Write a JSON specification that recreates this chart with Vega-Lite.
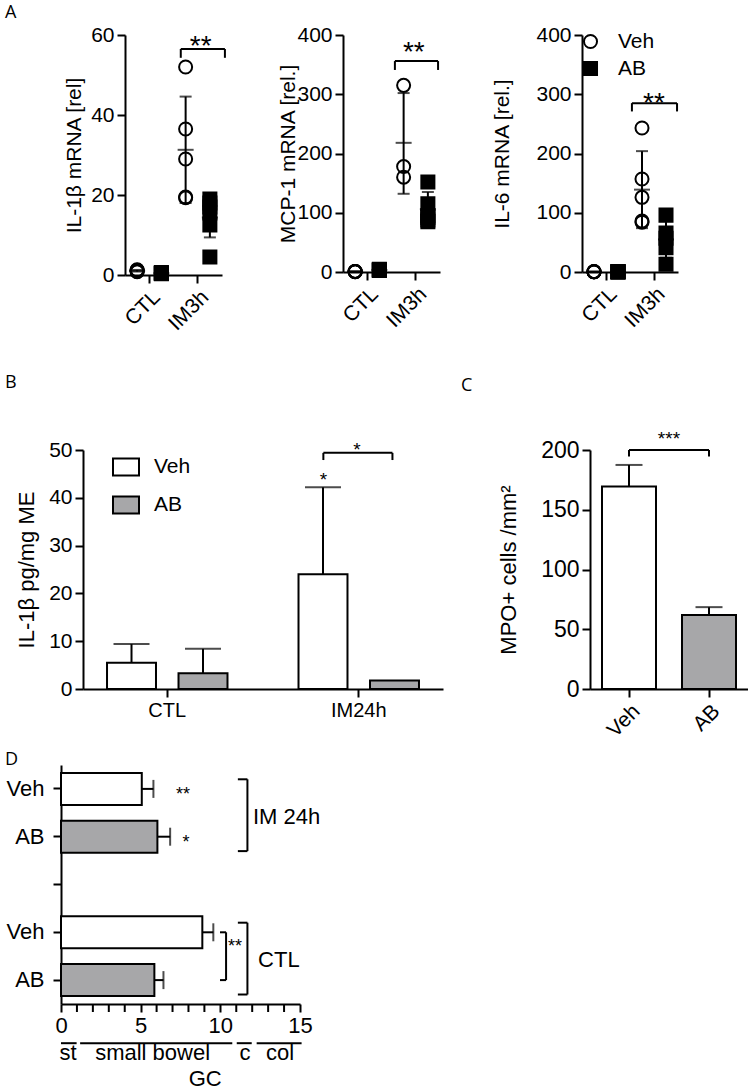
{
"$schema": "https://vega.github.io/schema/vega-lite/v6.json",
"padding": {"left": 0, "top": 4, "right": 0, "bottom": 0},
"datasets": {
"a1p": [
{"grp":"CTL","treat":"Veh","v":1.3},{"grp":"CTL","treat":"Veh","v":1.1},{"grp":"CTL","treat":"Veh","v":0.9},{"grp":"CTL","treat":"Veh","v":1.2},{"grp":"CTL","treat":"Veh","v":0.8},
{"grp":"CTL","treat":"AB","v":0.6},{"grp":"CTL","treat":"AB","v":0.4},{"grp":"CTL","treat":"AB","v":0.5},{"grp":"CTL","treat":"AB","v":0.3},{"grp":"CTL","treat":"AB","v":0.45},
{"grp":"IM3h","treat":"Veh","v":52},{"grp":"IM3h","treat":"Veh","v":36.5},{"grp":"IM3h","treat":"Veh","v":29},{"grp":"IM3h","treat":"Veh","v":19.5},{"grp":"IM3h","treat":"Veh","v":19.3},
{"grp":"IM3h","treat":"AB","v":19},{"grp":"IM3h","treat":"AB","v":18},{"grp":"IM3h","treat":"AB","v":17},{"grp":"IM3h","treat":"AB","v":15.5},{"grp":"IM3h","treat":"AB","v":12.5},{"grp":"IM3h","treat":"AB","v":4.5}],
"a1s": [
{"grp":"CTL","treat":"Veh","mean":1.06,"lo":0.86,"hi":1.26},
{"grp":"CTL","treat":"AB","mean":0.45,"lo":0.33,"hi":0.57},
{"grp":"IM3h","treat":"Veh","mean":31.3,"lo":18,"hi":44.6},
{"grp":"IM3h","treat":"AB","mean":14.4,"lo":9.4,"hi":19.4}],
"a2p": [
{"grp":"CTL","treat":"Veh","v":0.5},{"grp":"CTL","treat":"Veh","v":0.8},{"grp":"CTL","treat":"Veh","v":1.0},{"grp":"CTL","treat":"Veh","v":0.6},{"grp":"CTL","treat":"Veh","v":0.9},
{"grp":"CTL","treat":"AB","v":3},{"grp":"CTL","treat":"AB","v":4},{"grp":"CTL","treat":"AB","v":2.5},{"grp":"CTL","treat":"AB","v":3.5},{"grp":"CTL","treat":"AB","v":4.5},
{"grp":"IM3h","treat":"Veh","v":315},{"grp":"IM3h","treat":"Veh","v":178},{"grp":"IM3h","treat":"Veh","v":160},
{"grp":"IM3h","treat":"AB","v":152},{"grp":"IM3h","treat":"AB","v":115},{"grp":"IM3h","treat":"AB","v":95},{"grp":"IM3h","treat":"AB","v":92},{"grp":"IM3h","treat":"AB","v":88},{"grp":"IM3h","treat":"AB","v":85}],
"a2s": [
{"grp":"CTL","treat":"Veh","mean":0.76,"lo":0.55,"hi":0.97},
{"grp":"CTL","treat":"AB","mean":3.5,"lo":2.7,"hi":4.3},
{"grp":"IM3h","treat":"Veh","mean":218,"lo":132,"hi":302},
{"grp":"IM3h","treat":"AB","mean":106,"lo":77,"hi":135}],
"a3p": [
{"grp":"CTL","treat":"Veh","v":0.5},{"grp":"CTL","treat":"Veh","v":0.4},{"grp":"CTL","treat":"Veh","v":0.6},{"grp":"CTL","treat":"Veh","v":0.3},{"grp":"CTL","treat":"Veh","v":0.5},
{"grp":"CTL","treat":"AB","v":0.3},{"grp":"CTL","treat":"AB","v":0.4},{"grp":"CTL","treat":"AB","v":0.2},{"grp":"CTL","treat":"AB","v":0.5},{"grp":"CTL","treat":"AB","v":0.3},
{"grp":"IM3h","treat":"Veh","v":243},{"grp":"IM3h","treat":"Veh","v":157},{"grp":"IM3h","treat":"Veh","v":126},{"grp":"IM3h","treat":"Veh","v":84},{"grp":"IM3h","treat":"Veh","v":86},
{"grp":"IM3h","treat":"AB","v":96},{"grp":"IM3h","treat":"AB","v":66},{"grp":"IM3h","treat":"AB","v":57},{"grp":"IM3h","treat":"AB","v":41},{"grp":"IM3h","treat":"AB","v":13}],
"a3s": [
{"grp":"CTL","treat":"Veh","mean":0.46,"lo":0.35,"hi":0.57},
{"grp":"CTL","treat":"AB","mean":0.34,"lo":0.23,"hi":0.45},
{"grp":"IM3h","treat":"Veh","mean":139,"lo":74,"hi":204},
{"grp":"IM3h","treat":"AB","mean":55,"lo":24,"hi":86}],
"b": [
{"grp":"CTL","treat":"Veh","mean":5.5,"hi":9.4},
{"grp":"CTL","treat":"AB","mean":3.3,"hi":8.4},
{"grp":"IM24h","treat":"Veh","mean":24.0,"hi":42.2},
{"grp":"IM24h","treat":"AB","mean":1.8}],
"c": [
{"treat":"Veh","mean":169.5,"hi":187.5},
{"treat":"AB","mean":62,"hi":68.5}],
"d": [
{"cat":"IM_Veh","treat":"Veh","v":5.07,"hi":5.8},
{"cat":"IM_AB","treat":"AB","v":6.05,"hi":6.85},
{"cat":"CTL_Veh","treat":"Veh","v":8.87,"hi":9.56},
{"cat":"CTL_AB","treat":"AB","v":5.86,"hi":6.43}],
"dminor": [
{"row":"CTL_AB","x":1},{"row":"CTL_AB","x":2},{"row":"CTL_AB","x":3},{"row":"CTL_AB","x":4},
{"row":"CTL_AB","x":6},{"row":"CTL_AB","x":7},{"row":"CTL_AB","x":8},{"row":"CTL_AB","x":9},
{"row":"CTL_AB","x":11},{"row":"CTL_AB","x":12},{"row":"CTL_AB","x":13},{"row":"CTL_AB","x":14}]
},
"config": {
"font": "Liberation Sans",
"view": {"stroke": null},
"axis": {"domainColor":"black","domainWidth":2,"tickColor":"black","tickWidth":2,"tickSize":8,"labelColor":"black","titleColor":"black","labelFont":"Liberation Sans","titleFont":"Liberation Sans","labelFontSize":21,"titleFontSize":21,"titleFontWeight":"normal","grid":false,"labelPadding":3},
"title": {"font":"Open Sans","fontSize":18,"fontWeight":"normal","anchor":"start","frame":"group","color":"black"},
"legend": {"labelFont":"Liberation Sans","labelColor":"black","labelFontSize":21},
"text": {"font":"Liberation Sans","color":"black"}
},
"spacing": 10,
"align": "none",
"resolve": {"scale": {"fill":"independent","shape":"independent","xOffset":"independent"}, "legend": {"fill":"independent","shape":"independent"}},
"vconcat": [
{
"spacing": 40,
"align": "none",
"resolve": {"scale": {"fill":"independent","shape":"independent","xOffset":"independent"}, "legend": {"fill":"independent","shape":"independent"}},
"vconcat": [
{
"spacing": 4,
"align": "each",
"resolve": {"scale": {"fill":"independent","shape":"independent","xOffset":"independent"}, "legend": {"fill":"independent","shape":"independent"}},
"hconcat": [
{"width": 1, "height": 1, "data": {"values": [{"t": ""}]}, "mark": {"type": "text"}, "encoding": {"text": {"field": "t"}}},
{
"spacing": 51,
"align": "each",
"resolve": {"scale": {"fill":"independent","shape":"independent","xOffset":"independent"}, "legend": {"fill":"independent","shape":"independent"}},
"hconcat": [
{
"title": {"text": "A", "dx": -120, "offset": 2},
"width": 97, "height": 240,
"layer": [
{"data": {"name": "a1s"}, "mark": {"type": "rule", "color": "black", "strokeWidth": 2},
 "encoding": {
  "x": {"field": "grp", "type": "nominal", "scale": {"domain": ["CTL","IM3h"], "paddingInner": 0, "paddingOuter": 0}, "axis": {"title": null, "labelAngle": -45}},
  "xOffset": {"field": "treat", "type": "nominal", "scale": {"domain": ["Veh","AB"], "paddingInner": 0, "paddingOuter": 0}},
  "y": {"field": "lo", "type": "quantitative", "scale": {"domain": [0,60], "nice": false}, "axis": {"values": [0,20,40,60], "title": "IL-1β mRNA [rel]", "titlePadding": 6}},
  "y2": {"field": "hi"}}},
{"data": {"name": "a1s"}, "mark": {"type": "tick", "color": "black", "thickness": 2, "size": 12},
 "encoding": {"x": {"field": "grp", "type": "nominal"}, "xOffset": {"field": "treat", "type": "nominal"}, "y": {"field": "hi", "type": "quantitative"}}},
{"data": {"name": "a1s"}, "mark": {"type": "tick", "color": "black", "thickness": 2, "size": 12},
 "encoding": {"x": {"field": "grp", "type": "nominal"}, "xOffset": {"field": "treat", "type": "nominal"}, "y": {"field": "lo", "type": "quantitative"}}},
{"data": {"name": "a1s"}, "mark": {"type": "tick", "color": "black", "thickness": 2, "size": 16},
 "encoding": {"x": {"field": "grp", "type": "nominal"}, "xOffset": {"field": "treat", "type": "nominal"}, "y": {"field": "mean", "type": "quantitative"}}},
{"data": {"name": "a1p"}, "mark": {"type": "point", "size": 170, "stroke": "black", "strokeWidth": 2, "opacity": 1},
 "encoding": {"x": {"field": "grp", "type": "nominal"}, "xOffset": {"field": "treat", "type": "nominal"}, "y": {"field": "v", "type": "quantitative"},
  "shape": {"field": "treat", "type": "nominal", "scale": {"domain": ["Veh","AB"], "range": ["circle","square"]}, "legend": null},
  "fill": {"field": "treat", "type": "nominal", "scale": {"domain": ["Veh","AB"], "range": ["transparent","black"]}, "legend": null}}},
{"data": {"values": [{"g": "IM3h", "y": 56.5}]}, "mark": {"type": "rule", "color": "black", "strokeWidth": 2},
 "encoding": {"x": {"field": "g", "type": "nominal", "bandPosition": 0.15}, "x2": {"field": "g", "bandPosition": 1.06}, "y": {"field": "y", "type": "quantitative"}}},
{"data": {"values": [{"g": "IM3h", "y": 54.3, "y2": 56.5}]}, "mark": {"type": "rule", "color": "black", "strokeWidth": 2},
 "encoding": {"x": {"field": "g", "type": "nominal", "bandPosition": 0.15}, "y": {"field": "y", "type": "quantitative"}, "y2": {"field": "y2"}}},
{"data": {"values": [{"g": "IM3h", "y": 54.3, "y2": 56.5}]}, "mark": {"type": "rule", "color": "black", "strokeWidth": 2},
 "encoding": {"x": {"field": "g", "type": "nominal", "bandPosition": 1.06}, "y": {"field": "y", "type": "quantitative"}, "y2": {"field": "y2"}}},
{"data": {"values": [{"g": "IM3h", "y": 55, "t": "**"}]}, "mark": {"type": "text", "fontSize": 28, "baseline": "alphabetic", "align": "center", "color": "black"},
 "encoding": {"x": {"field": "g", "type": "nominal", "bandPosition": 0.56}, "y": {"field": "y", "type": "quantitative"}, "text": {"field": "t"}}}
]
},
{
"width": 97, "height": 237,
"layer": [
{"data": {"name": "a2s"}, "mark": {"type": "rule", "color": "black", "strokeWidth": 2},
 "encoding": {
  "x": {"field": "grp", "type": "nominal", "scale": {"domain": ["CTL","IM3h"], "paddingInner": 0, "paddingOuter": 0}, "axis": {"title": null, "labelAngle": -45}},
  "xOffset": {"field": "treat", "type": "nominal", "scale": {"domain": ["Veh","AB"], "paddingInner": 0, "paddingOuter": 0}},
  "y": {"field": "lo", "type": "quantitative", "scale": {"domain": [0,400], "nice": false}, "axis": {"values": [0,100,200,300,400], "title": "MCP-1 mRNA [rel.]", "titlePadding": -2}},
  "y2": {"field": "hi"}}},
{"data": {"name": "a2s"}, "mark": {"type": "tick", "color": "black", "thickness": 2, "size": 12},
 "encoding": {"x": {"field": "grp", "type": "nominal"}, "xOffset": {"field": "treat", "type": "nominal"}, "y": {"field": "hi", "type": "quantitative"}}},
{"data": {"name": "a2s"}, "mark": {"type": "tick", "color": "black", "thickness": 2, "size": 12},
 "encoding": {"x": {"field": "grp", "type": "nominal"}, "xOffset": {"field": "treat", "type": "nominal"}, "y": {"field": "lo", "type": "quantitative"}}},
{"data": {"name": "a2s"}, "mark": {"type": "tick", "color": "black", "thickness": 2, "size": 16},
 "encoding": {"x": {"field": "grp", "type": "nominal"}, "xOffset": {"field": "treat", "type": "nominal"}, "y": {"field": "mean", "type": "quantitative"}}},
{"data": {"name": "a2p"}, "mark": {"type": "point", "size": 170, "stroke": "black", "strokeWidth": 2, "opacity": 1},
 "encoding": {"x": {"field": "grp", "type": "nominal"}, "xOffset": {"field": "treat", "type": "nominal"}, "y": {"field": "v", "type": "quantitative"},
  "shape": {"field": "treat", "type": "nominal", "scale": {"domain": ["Veh","AB"], "range": ["circle","square"]}, "legend": null},
  "fill": {"field": "treat", "type": "nominal", "scale": {"domain": ["Veh","AB"], "range": ["transparent","black"]}, "legend": null}}},
{"data": {"values": [{"g": "IM3h", "y": 356}]}, "mark": {"type": "rule", "color": "black", "strokeWidth": 2},
 "encoding": {"x": {"field": "g", "type": "nominal", "bandPosition": 0.07}, "x2": {"field": "g", "bandPosition": 0.96}, "y": {"field": "y", "type": "quantitative"}}},
{"data": {"values": [{"g": "IM3h", "y": 341, "y2": 356}]}, "mark": {"type": "rule", "color": "black", "strokeWidth": 2},
 "encoding": {"x": {"field": "g", "type": "nominal", "bandPosition": 0.07}, "y": {"field": "y", "type": "quantitative"}, "y2": {"field": "y2"}}},
{"data": {"values": [{"g": "IM3h", "y": 341, "y2": 356}]}, "mark": {"type": "rule", "color": "black", "strokeWidth": 2},
 "encoding": {"x": {"field": "g", "type": "nominal", "bandPosition": 0.96}, "y": {"field": "y", "type": "quantitative"}, "y2": {"field": "y2"}}},
{"data": {"values": [{"g": "IM3h", "y": 356, "t": "**"}]}, "mark": {"type": "text", "fontSize": 28, "baseline": "alphabetic", "align": "center", "color": "black"},
 "encoding": {"x": {"field": "g", "type": "nominal", "bandPosition": 0.46}, "y": {"field": "y", "type": "quantitative"}, "text": {"field": "t"}}}
]
},
{
"width": 96, "height": 237,
"layer": [
{"data": {"name": "a3s"}, "mark": {"type": "rule", "color": "black", "strokeWidth": 2},
 "encoding": {
  "x": {"field": "grp", "type": "nominal", "scale": {"domain": ["CTL","IM3h"], "paddingInner": 0, "paddingOuter": 0}, "axis": {"title": null, "labelAngle": -45}},
  "xOffset": {"field": "treat", "type": "nominal", "scale": {"domain": ["Veh","AB"], "paddingInner": 0, "paddingOuter": 0}},
  "y": {"field": "lo", "type": "quantitative", "scale": {"domain": [0,400], "nice": false}, "axis": {"values": [0,100,200,300,400], "title": "IL-6 mRNA [rel.]", "titlePadding": 23}},
  "y2": {"field": "hi"}}},
{"data": {"name": "a3s"}, "mark": {"type": "tick", "color": "black", "thickness": 2, "size": 12},
 "encoding": {"x": {"field": "grp", "type": "nominal"}, "xOffset": {"field": "treat", "type": "nominal"}, "y": {"field": "hi", "type": "quantitative"}}},
{"data": {"name": "a3s"}, "mark": {"type": "tick", "color": "black", "thickness": 2, "size": 12},
 "encoding": {"x": {"field": "grp", "type": "nominal"}, "xOffset": {"field": "treat", "type": "nominal"}, "y": {"field": "lo", "type": "quantitative"}}},
{"data": {"name": "a3s"}, "mark": {"type": "tick", "color": "black", "thickness": 2, "size": 16},
 "encoding": {"x": {"field": "grp", "type": "nominal"}, "xOffset": {"field": "treat", "type": "nominal"}, "y": {"field": "mean", "type": "quantitative"}}},
{"data": {"name": "a3p"}, "mark": {"type": "point", "size": 170, "stroke": "black", "strokeWidth": 2, "opacity": 1},
 "encoding": {"x": {"field": "grp", "type": "nominal"}, "xOffset": {"field": "treat", "type": "nominal"}, "y": {"field": "v", "type": "quantitative"},
  "shape": {"field": "treat", "type": "nominal", "scale": {"domain": ["Veh","AB"], "range": ["circle","square"]}, "legend": {"title": null, "orient": "none", "legendX": -2, "legendY": -4, "labelOffset": 17, "rowPadding": 4, "labelFontSize": 21, "symbolStrokeWidth": 2, "symbolSize": 170}},
  "fill": {"field": "treat", "type": "nominal", "scale": {"domain": ["Veh","AB"], "range": ["transparent","black"]}, "legend": {"title": null, "orient": "none", "legendX": -2, "legendY": -4, "labelOffset": 17, "rowPadding": 4, "labelFontSize": 21, "symbolStrokeWidth": 2, "symbolSize": 170}}}},
{"data": {"values": [{"g": "IM3h", "y": 285}]}, "mark": {"type": "rule", "color": "black", "strokeWidth": 2},
 "encoding": {"x": {"field": "g", "type": "nominal", "bandPosition": 0.04}, "x2": {"field": "g", "bandPosition": 0.98}, "y": {"field": "y", "type": "quantitative"}}},
{"data": {"values": [{"g": "IM3h", "y": 271, "y2": 285}]}, "mark": {"type": "rule", "color": "black", "strokeWidth": 2},
 "encoding": {"x": {"field": "g", "type": "nominal", "bandPosition": 0.04}, "y": {"field": "y", "type": "quantitative"}, "y2": {"field": "y2"}}},
{"data": {"values": [{"g": "IM3h", "y": 271, "y2": 285}]}, "mark": {"type": "rule", "color": "black", "strokeWidth": 2},
 "encoding": {"x": {"field": "g", "type": "nominal", "bandPosition": 0.98}, "y": {"field": "y", "type": "quantitative"}, "y2": {"field": "y2"}}},
{"data": {"values": [{"g": "IM3h", "y": 270, "t": "**"}]}, "mark": {"type": "text", "fontSize": 28, "baseline": "alphabetic", "align": "center", "color": "black"},
 "encoding": {"x": {"field": "g", "type": "nominal", "bandPosition": 0.5}, "y": {"field": "y", "type": "quantitative"}, "text": {"field": "t"}}}
]
}
]
}
]
},
{
"spacing": 4,
"align": "each",
"resolve": {"scale": {"fill":"independent","shape":"independent","xOffset":"independent"}, "legend": {"fill":"independent","shape":"independent"}},
"hconcat": [
{"width": 1, "height": 1, "data": {"values": [{"t": ""}]}, "mark": {"type": "text"}, "encoding": {"text": {"field": "t"}}},
{
"spacing": 18,
"align": "each",
"resolve": {"scale": {"fill":"independent","shape":"independent","xOffset":"independent"}, "legend": {"fill":"independent","shape":"independent"}},
"hconcat": [
{
"title": {"text": "B", "dx": -78, "offset": 47},
"width": 360, "height": 239,
"layer": [
{"data": {"name": "b"}, "mark": {"type": "bar", "stroke": "black", "strokeWidth": 2},
 "encoding": {
  "x": {"field": "grp", "type": "nominal", "scale": {"domain": ["CTL","IM24h"], "paddingInner": 0.12, "paddingOuter": 0}, "axis": {"title": null, "labelAngle": 0, "labelFontSize": 20}},
  "xOffset": {"field": "treat", "type": "nominal", "scale": {"domain": ["Veh","AB"], "paddingInner": 0.315, "paddingOuter": 0.336}},
  "y": {"field": "mean", "type": "quantitative", "scale": {"domain": [0,50], "nice": false}, "axis": {"values": [0,10,20,30,40,50], "title": "IL-1β pg/mg ME", "titlePadding": 10, "titleFontSize": 22}},
  "fill": {"field": "treat", "type": "nominal", "scale": {"domain": ["Veh","AB"], "range": ["white","#a7a7a9"]},
   "legend": {"title": null, "orient": "none", "legendX": 29, "legendY": 3, "symbolType": "M-1,-0.65L1,-0.65L1,0.65L-1,0.65Z", "symbolSize": 676, "symbolStrokeColor": "black", "symbolStrokeWidth": 2, "labelFontSize": 21, "labelOffset": 14, "rowPadding": 11}}}},
{"data": {"name": "b"}, "transform": [{"filter": "isValid(datum.hi)"}], "mark": {"type": "rule", "color": "black", "strokeWidth": 2},
 "encoding": {"x": {"field": "grp", "type": "nominal"}, "xOffset": {"field": "treat", "type": "nominal"}, "y": {"field": "mean", "type": "quantitative"}, "y2": {"field": "hi"}}},
{"data": {"name": "b"}, "transform": [{"filter": "isValid(datum.hi)"}], "mark": {"type": "tick", "color": "black", "thickness": 2, "size": 36},
 "encoding": {"x": {"field": "grp", "type": "nominal"}, "xOffset": {"field": "treat", "type": "nominal"}, "y": {"field": "hi", "type": "quantitative"}}},
{"data": {"values": [{"g": "IM24h", "y": 49.4}]}, "mark": {"type": "rule", "color": "black", "strokeWidth": 2},
 "encoding": {"x": {"field": "g", "type": "nominal", "bandPosition": 0.29}, "x2": {"field": "g", "bandPosition": 0.70}, "y": {"field": "y", "type": "quantitative"}}},
{"data": {"values": [{"g": "IM24h", "y": 47.9, "y2": 49.4}]}, "mark": {"type": "rule", "color": "black", "strokeWidth": 2},
 "encoding": {"x": {"field": "g", "type": "nominal", "bandPosition": 0.29}, "y": {"field": "y", "type": "quantitative"}, "y2": {"field": "y2"}}},
{"data": {"values": [{"g": "IM24h", "y": 47.9, "y2": 49.4}]}, "mark": {"type": "rule", "color": "black", "strokeWidth": 2},
 "encoding": {"x": {"field": "g", "type": "nominal", "bandPosition": 0.70}, "y": {"field": "y", "type": "quantitative"}, "y2": {"field": "y2"}}},
{"data": {"values": [{"g": "IM24h", "y": 48.7, "t": "*"}]}, "mark": {"type": "text", "fontSize": 19, "baseline": "alphabetic", "align": "center", "color": "black"},
 "encoding": {"x": {"field": "g", "type": "nominal", "bandPosition": 0.49}, "y": {"field": "y", "type": "quantitative"}, "text": {"field": "t"}}},
{"data": {"values": [{"g": "IM24h", "y": 42.5, "t": "*"}]}, "mark": {"type": "text", "fontSize": 19, "baseline": "alphabetic", "align": "center", "color": "black"},
 "encoding": {"x": {"field": "g", "type": "nominal", "bandPosition": 0.29}, "y": {"field": "y", "type": "quantitative"}, "text": {"field": "t"}}}
]
},
{
"title": {"text": "C", "dx": -129, "offset": 35},
"width": 158, "height": 239,
"layer": [
{"data": {"name": "c"}, "mark": {"type": "bar", "stroke": "black", "strokeWidth": 2},
 "encoding": {
  "x": {"field": "treat", "type": "nominal", "scale": {"domain": ["Veh","AB"], "paddingInner": 0.325, "paddingOuter": 0.15}, "axis": {"title": null, "labelAngle": -45, "labelFontSize": 21}},
  "y": {"field": "mean", "type": "quantitative", "scale": {"domain": [0,200], "nice": false}, "axis": {"values": [0,50,100,150,200], "title": "MPO+ cells /mm²", "titlePadding": 20, "labelFontSize": 23, "titleFontSize": 22}},
  "fill": {"field": "treat", "type": "nominal", "scale": {"domain": ["Veh","AB"], "range": ["white","#a7a7a9"]}, "legend": null}}},
{"data": {"name": "c"}, "mark": {"type": "rule", "color": "black", "strokeWidth": 2},
 "encoding": {"x": {"field": "treat", "type": "nominal"}, "y": {"field": "mean", "type": "quantitative"}, "y2": {"field": "hi"}}},
{"data": {"name": "c"}, "mark": {"type": "tick", "color": "black", "thickness": 2, "size": 27},
 "encoding": {"x": {"field": "treat", "type": "nominal"}, "y": {"field": "hi", "type": "quantitative"}}},
{"data": {"values": [{"a": "Veh", "b": "AB", "y": 200}]}, "mark": {"type": "rule", "color": "black", "strokeWidth": 2},
 "encoding": {"x": {"field": "a", "type": "nominal", "bandPosition": 0.5}, "x2": {"field": "b", "bandPosition": 0.5}, "y": {"field": "y", "type": "quantitative"}}},
{"data": {"values": [{"a": "Veh", "y": 194.5, "y2": 200}, {"a": "AB", "y": 194.5, "y2": 200}]}, "mark": {"type": "rule", "color": "black", "strokeWidth": 2},
 "encoding": {"x": {"field": "a", "type": "nominal"}, "y": {"field": "y", "type": "quantitative"}, "y2": {"field": "y2"}}},
{"data": {"values": [{"a": "Veh", "y": 204, "t": "***"}]}, "mark": {"type": "text", "fontSize": 19, "baseline": "alphabetic", "align": "center", "color": "black"},
 "encoding": {"x": {"field": "a", "type": "nominal", "bandPosition": 1.24}, "y": {"field": "y", "type": "quantitative"}, "text": {"field": "t"}}}
]
}
]
}
]
}
]
},
{
"spacing": 4,
"align": "each",
"resolve": {"scale": {"fill":"independent","shape":"independent","xOffset":"independent"}, "legend": {"fill":"independent","shape":"independent"}},
"hconcat": [
{"width": 1, "height": 1, "data": {"values": [{"t": ""}]}, "mark": {"type": "text"}, "encoding": {"text": {"field": "t"}}},
{
"title": {"text": "D", "dx": -56, "offset": -4},
"width": 239, "height": 239,
"layer": [
{"data": {"name": "d"}, "mark": {"type": "bar", "stroke": "black", "strokeWidth": 2},
 "encoding": {
  "y": {"field": "cat", "type": "nominal", "scale": {"domain": ["IM_Veh","IM_AB","gap","CTL_Veh","CTL_AB"], "paddingInner": 0.33, "paddingOuter": 0.165},
   "axis": {"title": null, "labelPadding": 9, "labelFontSize": 22, "labelExpr": "indexof(datum.value, 'Veh') >= 0 ? 'Veh' : (indexof(datum.value, 'AB') >= 0 ? 'AB' : '')"}},
  "x": {"field": "v", "type": "quantitative", "scale": {"domain": [0,15], "nice": false}, "axis": {"title": null, "values": [0,5,10,15], "labelFontSize": 22, "labelFlush": false}},
  "fill": {"field": "treat", "type": "nominal", "scale": {"domain": ["Veh","AB"], "range": ["white","#a7a7a9"]}, "legend": null}}},
{"data": {"name": "dminor"}, "mark": {"type": "rule", "color": "black", "strokeWidth": 2},
 "encoding": {"x": {"field": "x", "type": "quantitative"}, "y": {"field": "row", "type": "nominal", "bandPosition": 1.246}, "y2": {"field": "row", "bandPosition": 1.496}}},
{"data": {"name": "d"}, "mark": {"type": "rule", "color": "black", "strokeWidth": 2},
 "encoding": {"y": {"field": "cat", "type": "nominal"}, "x": {"field": "v", "type": "quantitative"}, "x2": {"field": "hi"}}},
{"data": {"name": "d"}, "mark": {"type": "tick", "color": "black", "thickness": 2, "size": 18},
 "encoding": {"y": {"field": "cat", "type": "nominal"}, "x": {"field": "hi", "type": "quantitative"}}},
{"data": {"values": [{"x": 11.7, "y1": "IM_Veh", "y2": "IM_AB"}, {"x": 11.7, "y1": "CTL_Veh", "y2": "CTL_AB"}]}, "mark": {"type": "rule", "color": "black", "strokeWidth": 2},
 "encoding": {"x": {"field": "x", "type": "quantitative"}, "y": {"field": "y1", "type": "nominal", "bandPosition": 0.2}, "y2": {"field": "y2", "bandPosition": 0.95}}},
{"data": {"values": [{"xa": 11.1, "xb": 11.7, "y1": "IM_Veh"}, {"xa": 11.1, "xb": 11.7, "y1": "CTL_Veh"}]}, "mark": {"type": "rule", "color": "black", "strokeWidth": 2},
 "encoding": {"x": {"field": "xa", "type": "quantitative"}, "x2": {"field": "xb"}, "y": {"field": "y1", "type": "nominal", "bandPosition": 0.2}}},
{"data": {"values": [{"xa": 11.1, "xb": 11.7, "y1": "IM_AB"}, {"xa": 11.1, "xb": 11.7, "y1": "CTL_AB"}]}, "mark": {"type": "rule", "color": "black", "strokeWidth": 2},
 "encoding": {"x": {"field": "xa", "type": "quantitative"}, "x2": {"field": "xb"}, "y": {"field": "y1", "type": "nominal", "bandPosition": 0.95}}},
{"data": {"values": [{"x": 10.36, "y1": "CTL_Veh", "y2": "CTL_AB"}]}, "mark": {"type": "rule", "color": "black", "strokeWidth": 2},
 "encoding": {"x": {"field": "x", "type": "quantitative"}, "y": {"field": "y1", "type": "nominal", "bandPosition": 0.5}, "y2": {"field": "y2", "bandPosition": 0.5}}},
{"data": {"values": [{"xa": 9.98, "xb": 10.36, "y1": "CTL_Veh"}, {"xa": 9.98, "xb": 10.36, "y1": "CTL_AB"}]}, "mark": {"type": "rule", "color": "black", "strokeWidth": 2},
 "encoding": {"x": {"field": "xa", "type": "quantitative"}, "x2": {"field": "xb"}, "y": {"field": "y1", "type": "nominal", "bandPosition": 0.5}}},
{"data": {"values": [{"x": 12.05, "y1": "IM_Veh", "t": "IM 24h"}, {"x": 12.37, "y1": "CTL_Veh", "t": "CTL"}]}, "mark": {"type": "text", "fontSize": 22, "baseline": "middle", "align": "left", "color": "black"},
 "encoding": {"x": {"field": "x", "type": "quantitative"}, "y": {"field": "y1", "type": "nominal", "bandPosition": 1.375}, "text": {"field": "t"}}},
{"data": {"values": [{"x": 7.66, "y1": "IM_Veh", "t": "**"}, {"x": 7.85, "y1": "IM_AB", "t": "*"}]}, "mark": {"type": "text", "fontSize": 18, "baseline": "alphabetic", "align": "center", "color": "black"},
 "encoding": {"x": {"field": "x", "type": "quantitative"}, "y": {"field": "y1", "type": "nominal", "bandPosition": 0.84}, "text": {"field": "t"}}},
{"data": {"values": [{"x": 10.48, "y1": "CTL_Veh", "t": "**"}]}, "mark": {"type": "text", "fontSize": 18, "baseline": "alphabetic", "align": "left", "color": "black"},
 "encoding": {"x": {"field": "x", "type": "quantitative"}, "y": {"field": "y1", "type": "nominal", "bandPosition": 1.13}, "text": {"field": "t"}}},
{"data": {"values": [{"row": "CTL_AB", "x0": 0, "x1": 0.98, "mid": 0.45, "lab": "st"}, {"row": "CTL_AB", "x0": 1.2, "x1": 10.75, "mid": 5.75, "lab": "small bowel"}, {"row": "CTL_AB", "x0": 11.03, "x1": 11.97, "mid": 11.55, "lab": "c"}, {"row": "CTL_AB", "x0": 12.28, "x1": 15.1, "mid": 13.75, "lab": "col"}]},
 "layer": [
  {"mark": {"type": "rule", "color": "black", "strokeWidth": 2},
   "encoding": {"x": {"field": "x0", "type": "quantitative"}, "x2": {"field": "x1"}, "y": {"field": "row", "type": "nominal", "bandPosition": 2.47}}},
  {"mark": {"type": "text", "fontSize": 22, "baseline": "alphabetic", "align": "center", "color": "black"},
   "encoding": {"x": {"field": "mid", "type": "quantitative"}, "y": {"field": "row", "type": "nominal", "bandPosition": 3.0}, "text": {"field": "lab"}}}
 ]},
{"data": {"values": [{"x": 9.05, "row": "CTL_AB", "t": "GC"}]}, "mark": {"type": "text", "fontSize": 22, "baseline": "alphabetic", "align": "center", "color": "black"},
 "encoding": {"x": {"field": "x", "type": "quantitative"}, "y": {"field": "row", "type": "nominal", "bandPosition": 3.8}, "text": {"field": "t"}}}
]
}
]
}
]
}
